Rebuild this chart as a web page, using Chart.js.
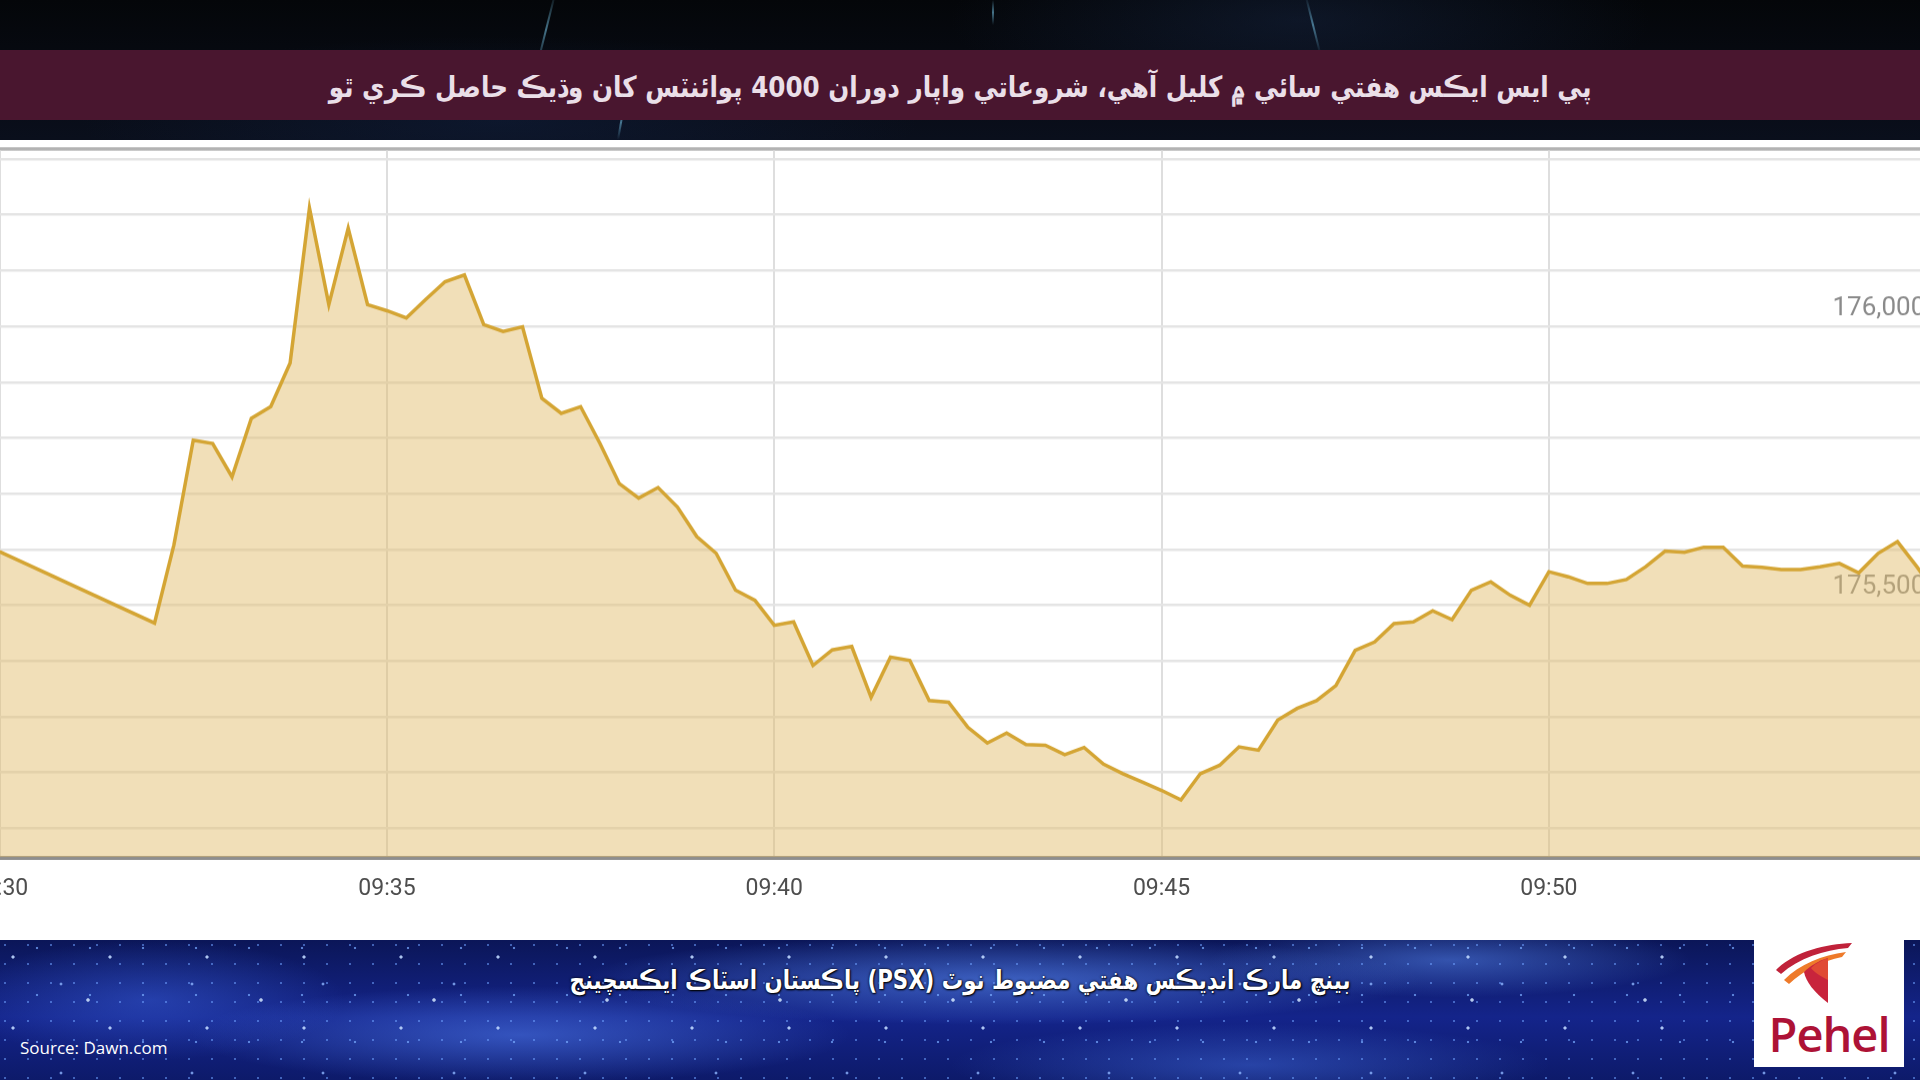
<!DOCTYPE html>
<html>
<head>
<meta charset="utf-8">
<script src="https://cdn.jsdelivr.net/npm/chart.js@4.4.1/dist/chart.umd.min.js"></script>
<style>
  html, body { margin:0; padding:0; width:1920px; height:1080px; overflow:hidden; background:#05070d; }
  #top { position:absolute; left:0; top:0; width:1920px; height:140px;
    background: radial-gradient(ellipse 500px 140px at 1300px 20px, rgba(30,50,90,.35), transparent 70%),
                radial-gradient(ellipse 600px 120px at 500px 120px, rgba(20,40,80,.35), transparent 70%),
                linear-gradient(#040609, #0a0f1c); overflow:hidden; }
  .streak { position:absolute; width:2px; background:linear-gradient(rgba(120,190,230,0), rgba(120,200,235,.55), rgba(120,190,230,0)); }
  #titlebar { position:absolute; left:0; top:50px; width:1920px; height:70px; background:#49162f; }
  #titlebar span { position:absolute; left:0; top:20px; width:1920px; text-align:center; direction:rtl;
    font-family:"DejaVu Sans", sans-serif; font-weight:bold; font-size:29px; color:#eadfe8; white-space:nowrap;
    transform:scaleX(0.85); transform-origin:961px 50%; }
  #white { position:absolute; left:0; top:140px; width:1920px; height:800px; background:#ffffff; }
  #topline { position:absolute; left:0; top:147px; width:1920px; height:4px; background:linear-gradient(#d0d0d0,#a9a9a9,#d6d6d6); }
  #chartWrap { position:absolute; left:0; top:0; width:2100px; height:800px; }
  #bottom { position:absolute; left:0; top:940px; width:1920px; height:140px; overflow:hidden;
    background-color:#10208a;
    background-image:
      radial-gradient(circle at 13px 17px, rgba(190,215,255,.9) 0 1.2px, transparent 2px),
      radial-gradient(circle at 61px 44px, rgba(140,180,255,.8) 0 1px, transparent 1.8px),
      radial-gradient(circle at 37px 8px, rgba(120,170,255,.7) 0 1px, transparent 1.6px),
      radial-gradient(circle at 88px 60px, rgba(210,230,255,.85) 0 1.3px, transparent 2.2px),
      radial-gradient(circle at 5px 5px, rgba(110,160,255,.55) 0 0.8px, transparent 1.4px),
      radial-gradient(ellipse 560px 60px at 1000px 40px, rgba(90,140,245,.6), transparent 75%),
      radial-gradient(ellipse 440px 65px at 520px 95px, rgba(80,125,240,.55), transparent 75%),
      radial-gradient(ellipse 320px 50px at 1450px 20px, rgba(90,140,245,.5), transparent 75%),
      radial-gradient(ellipse 400px 55px at 1250px 125px, rgba(70,115,230,.45), transparent 75%),
      radial-gradient(ellipse 260px 80px at 150px 60px, rgba(60,100,225,.45), transparent 75%),
      linear-gradient(#0b1658, #14248a 55%, #0d1a6a);
    background-size: 97px 71px, 131px 89px, 53px 47px, 173px 113px, 23px 19px, auto, auto, auto, auto, auto, auto;
  }
  #caption { position:absolute; left:0; top:25px; width:1920px; text-align:center; direction:rtl;
    font-family:"DejaVu Sans", sans-serif; font-weight:bold; font-size:26px; color:#ffffff;
    text-shadow: 0 0 3px #000, 1px 1px 2px #000; white-space:nowrap;
    transform:scaleX(0.82); transform-origin:960px 50%; }
  #source { position:absolute; left:20px; top:96px; font-family:"Open Sans", sans-serif; font-size:17px; color:#ffffff; }
  #logo { position:absolute; left:1754px; top:940px; width:150px; height:127px; background:#ffffff; }
  #logo .name { position:absolute; left:0; width:150px; top:62px; text-align:center; font-family:"Open Sans", sans-serif; font-weight:600; font-size:47px; color:#ad1236; letter-spacing:-1px; }
</style>
</head>
<body>
<div id="top">
  <div class="streak" style="left:545px; top:-10px; height:80px; transform:rotate(14deg);"></div>
  <div class="streak" style="left:1312px; top:-5px; height:60px; transform:rotate(-14deg);"></div>
  <div class="streak" style="left:992px; top:0px; height:25px;"></div>
  <div class="streak" style="left:620px; top:105px; height:35px; transform:rotate(10deg);"></div>
</div>
<div id="titlebar"><span>پي ايس ايڪس هفتي سائي ۾ کليل آهي، شروعاتي واپار دوران 4000 پوائنٽس کان وڌيڪ حاصل ڪري ٿو</span></div>
<div id="white"></div>
<div id="topline"></div>
<div id="chartWrap"><canvas id="c"></canvas></div>
<div id="bottom">
  <div id="caption">بينچ مارڪ انڊيڪس هفتي مضبوط نوٽ (PSX) پاڪستان اسٽاڪ ايڪسچينج</div>
  <div id="source">Source: Dawn.com</div>
</div>
<div id="logo">
  <svg width="150" height="70" viewBox="0 0 150 70" style="position:absolute;left:0;top:0">
    <path d="M22,30 C40,12 70,4 98,3 L94,8 C70,10 45,18 27,34 Z" fill="#c0223a"/>
    <path d="M30,40 C46,24 68,15 92,12 L88,17 C68,21 50,30 35,44 Z" fill="#ee7a2a"/>
    <path d="M74,18 L74,63 C60,52 52,42 50,32 C56,26 64,21 74,18 Z" fill="#c8243c"/>
    <path d="M74,18 L74,40 C66,36 60,32 57,28 C62,23 68,20 74,18 Z" fill="#e04a34"/>
  </svg>
  <div class="name">Pehel</div>
</div>

<script>
// ---- data (KSE-100 intraday) ----
const times = [
  '09:30:00','09:32:00','09:32:15','09:32:30','09:32:45','09:33:00','09:33:15','09:33:30','09:33:45',
  '09:34:00','09:34:15','09:34:30','09:34:45','09:35:00','09:35:15','09:35:30','09:35:45',
  '09:36:00','09:36:15','09:36:30','09:36:45','09:37:00','09:37:15','09:37:30','09:37:45',
  '09:38:00','09:38:15','09:38:30','09:38:45','09:39:00','09:39:15','09:39:30','09:39:45',
  '09:40:00','09:40:15','09:40:30','09:40:45','09:41:00','09:41:15','09:41:30','09:41:45',
  '09:42:00','09:42:15','09:42:30','09:42:45','09:43:00','09:43:15','09:43:30','09:43:45',
  '09:44:00','09:44:15','09:44:30','09:44:45','09:45:00','09:45:15','09:45:30','09:45:45',
  '09:46:00','09:46:15','09:46:30','09:46:45','09:47:00','09:47:15','09:47:30','09:47:45',
  '09:48:00','09:48:15','09:48:30','09:48:45','09:49:00','09:49:15','09:49:30','09:49:45',
  '09:50:00','09:50:15','09:50:30','09:50:45','09:51:00','09:51:15','09:51:30','09:51:45',
  '09:52:00','09:52:15','09:52:30','09:52:45','09:53:00','09:53:15','09:53:30','09:53:45',
  '09:54:00','09:54:15','09:54:30','09:54:45','09:55:00'
];
const values = [
  175596,175468,175608,175796,175790,175730,175835,175856,175934,
  176212,176039,176176,176039,176028,176015,176048,176080,
  176092,176003,175991,175999,175871,175844,175856,175790,
  175718,175692,175711,175676,175623,175593,175527,175509,
  175464,175470,175392,175420,175426,175335,175407,175401,
  175329,175326,175281,175253,175271,175250,175249,175232,
  175245,175215,175198,175183,175168,175151,175198,175213,
  175246,175240,175294,175315,175329,175356,175419,175434,
  175467,175470,175490,175474,175527,175542,175518,175500,
  175560,175551,175539,175539,175546,175569,175597,175595,
  175604,175604,175570,175568,175564,175564,175569,175575,
  175558,175593,175614,175569,175520
];
const xTickTimes  = ['09:30:00','09:35:00','09:40:00','09:45:00','09:50:00'];
const xTickLabels = ['09:30','09:35','09:40','09:45','09:50'];
const yGridValues = [175100,175200,175300,175400,175500,175600,175700,175800,175900,176000,176100,176200,176300];
const yLabeledValues = [176000,175500];

// visible window of the cropped original chart
const X_MIN = -75.8, X_MAX = 1491.5;     // seconds after 09:30:00
const Y_MIN = 175047.6, Y_MAX = 176315;

function toSec(s){ const p = s.split(':').map(Number); return (p[0]*3600+p[1]*60+p[2]) - (9*3600+30*60); }

const TARGET = {left:-100, right:1927, top:151, bottom:857};

const ctx = document.getElementById('c');
const chart = new Chart(ctx, {
  type: 'line',
  data: {
    datasets: [{
      data: times.map((t,i)=>({x: toSec(t), y: values[i]})),
      borderColor: '#d4a534',
      borderWidth: 3.5,
      backgroundColor: 'rgba(226,188,105,0.47)',
      fill: 'start',
      pointRadius: 0,
      tension: 0
    }]
  },
  options: {
    responsive: true,
    maintainAspectRatio: false,
    animation: false,
    events: [],
    layout: { padding: 0 },
    plugins: { legend: { display:false }, tooltip: { enabled:false } },
    scales: {
      x: {
        type: 'linear',
        min: X_MIN, max: X_MAX,
        afterBuildTicks: s => { s.ticks = xTickTimes.map(t => ({value: toSec(t)})); },
        ticks: {
          autoSkip: false, maxRotation: 0,
          padding: 18,
          color: '#4e4e4e',
          font: { family: 'Roboto', size: 23 },
          callback: (v) => { const i = xTickTimes.findIndex(t => toSec(t) === v); return i >= 0 ? xTickLabels[i] : ''; }
        },
        grid: { color: '#dedede', lineWidth: 2, drawTicks: false },
        border: { display: true, color: '#8e8e8e', width: 4 }
      },
      y: {
        position: 'right',
        min: Y_MIN, max: Y_MAX,
        afterBuildTicks: s => { s.ticks = yGridValues.map(v => ({value: v})); },
        ticks: {
          autoSkip: false,
          mirror: true,
          padding: 0,
          labelOffset: -18,
          color: '#8a8a8a',
          font: { family: 'Roboto', size: 26 },
          callback: (v) => yLabeledValues.includes(v) ? v.toLocaleString('en-US') : ''
        },
        grid: { color: '#e4e4e4', lineWidth: 2.5, drawTicks: false },
        border: { display: false }
      }
    }
  }
});

// place the canvas so the plot area matches the cropped original frame
const wrap = document.getElementById('chartWrap');
const a = chart.chartArea;
const padL = a.left, padR = chart.width - a.right, padT = a.top, padB = chart.height - a.bottom;
wrap.style.left = (TARGET.left - padL) + 'px';
wrap.style.top = (TARGET.top - padT) + 'px';
wrap.style.width = (TARGET.right - TARGET.left + padL + padR) + 'px';
wrap.style.height = (TARGET.bottom - TARGET.top + padT + padB) + 'px';
chart.resize();
</script>
</body>
</html>
